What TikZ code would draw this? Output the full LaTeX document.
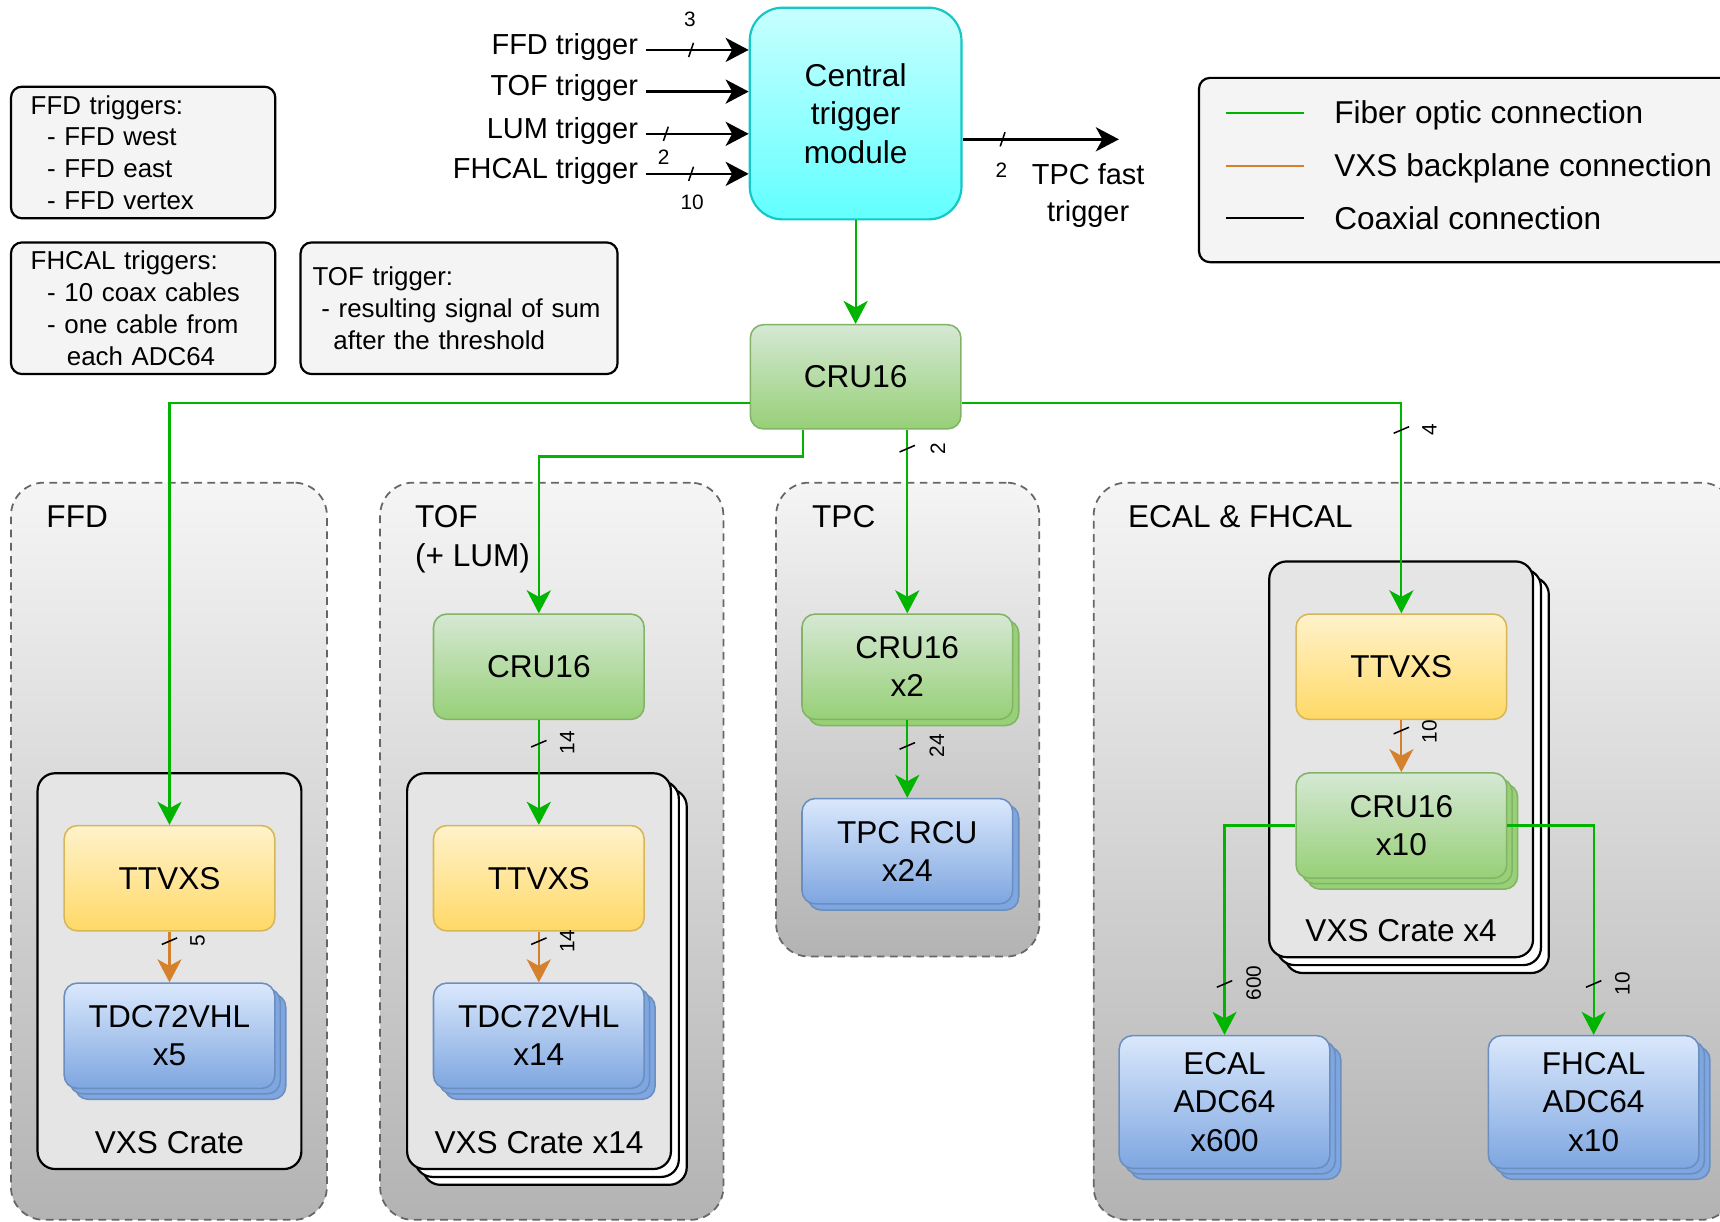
\documentclass[tikz,border=0pt]{standalone}
\usepackage{fontspec}
\setmainfont{Liberation Sans}
\usepackage{tikz}
\usetikzlibrary{arrows.meta,shadows,positioning}

\definecolor{fibre}{RGB}{0,180,0}
\definecolor{backplane}{RGB}{212,128,44}
\definecolor{crutop}{HTML}{D5E8D4}
\definecolor{crubot}{HTML}{97D077}
\definecolor{cruedge}{HTML}{82B366}
\definecolor{tttop}{HTML}{FFF2CC}
\definecolor{ttbot}{HTML}{FFD966}
\definecolor{ttedge}{HTML}{D6B656}
\definecolor{adctop}{HTML}{DAE8FC}
\definecolor{adcbot}{HTML}{7EA6E0}
\definecolor{adcedge}{HTML}{6C8EBF}
\definecolor{ctmtop}{HTML}{C8FFFF}
\definecolor{ctmbot}{HTML}{62FFFF}
\definecolor{ctmedge}{HTML}{14C8C8}
\definecolor{grptop}{HTML}{F5F5F5}
\definecolor{grpbot}{HTML}{B3B3B3}
\definecolor{grpedge}{HTML}{666666}
\definecolor{notefill}{HTML}{F4F4F4}

\begin{document}
\begin{tikzpicture}[x=0.5pt, y=-0.5pt,
  every node/.style={font=\fontsize{14.4}{17.5}\selectfont, align=center},
  >={Stealth[length=10.5pt, width=11pt, inset=3pt]},
  box/.style={draw, line width=0.7pt, rounded corners=6pt, minimum width=96pt, minimum height=48pt, inner sep=0pt},
  crubox/.style={box, draw=cruedge, top color=crutop, bottom color=crubot},
  ttbox/.style={box, draw=ttedge, top color=tttop, bottom color=ttbot},
  adcbox/.style={box, draw=adcedge, top color=adctop, bottom color=adcbot},
  stackone/.style={copy shadow={shadow xshift=2.8pt, shadow yshift=-2.8pt, fill=#1bot, draw=#1edge, line width=0.7pt}},
  stacktwo/.style={copy shadow={shadow xshift=5pt, shadow yshift=-5pt, fill=#1bot, draw=#1edge, line width=0.7pt},
                   copy shadow={shadow xshift=2.5pt, shadow yshift=-2.5pt, fill=#1bot, draw=#1edge, line width=0.7pt}},
  crate/.style={draw, line width=1pt, fill=gray!20, rounded corners=8pt, minimum width=120.25pt, minimum height=180.4pt, inner sep=0pt},
  cratecopies/.style={copy shadow={shadow xshift=7.2pt, shadow yshift=-7.2pt, fill=white, draw=black, line width=1pt},
                      copy shadow={shadow xshift=3.6pt, shadow yshift=-3.6pt, fill=white, draw=black, line width=1pt}},
  grp/.style={draw=grpedge, line width=0.8pt, dash pattern=on 3.5pt off 2.5pt, top color=grptop, bottom color=grpbot, rounded corners=15pt, inner sep=0pt},
  note/.style={draw, line width=1pt, fill=notefill, rounded corners=5pt, align=left, font=\fontsize{11.8}{14.5}\selectfont},
  trig/.style={font=\fontsize{13.2}{17}\selectfont},
  legtext/.style={anchor=west, text height=10.5pt, text depth=3pt},
  num/.style={font=\fontsize{9.5}{11}\selectfont, inner sep=1pt},
  fib/.style={draw=fibre, line width=1pt},
  vxs/.style={draw=backplane, line width=1pt},
  coax/.style={draw=black, line width=1.2pt},
  cut/.style={draw=black, line width=0.7pt}]
\useasboundingbox (0,0) rectangle (1568,1114);
\clip (0,0) rectangle (1568,1114);

\node[grp, minimum width=144pt, minimum height=336pt] (grpffd) at (154,776) {};
\node[grp, minimum width=156.5pt, minimum height=336pt] (grptof) at (503,776) {};
\node[grp, minimum width=120pt, minimum height=216pt] (grptpc) at (827.5,656) {};
\node[grp, minimum width=292pt, minimum height=336pt] (grpcal) at (1289,776) {};
\node[anchor=north west] (lblffd) at (35.3,454) {FFD};
\node[anchor=north west, align=left] (lbltof) at (371.3,454) {TOF\\(+ LUM)};
\node[anchor=north west] (lbltpc) at (733.3,454) {TPC};
\node[anchor=north west] (lblcal) at (1021.3,454) {ECAL \& FHCAL};

\node[crate] (crateffd) at (154.5,885.3) {};
\node[crate, cratecopies] (cratetof) at (491.4,885.3) {};
\node[crate, cratecopies] (cratecal) at (1277.3,692.2) {};
\node[anchor=south] (lblcrffd) at ([yshift=3.8pt]crateffd.south) {VXS Crate};
\node[anchor=south] (lblcrtof) at ([yshift=3.8pt]cratetof.south) {VXS Crate x14};
\node[anchor=south] (lblcrcal) at ([yshift=3.8pt]cratecal.south) {VXS Crate x4};

\node[box, draw=ctmedge, line width=1pt, top color=ctmtop, bottom color=ctmbot, rounded corners=15pt, minimum width=96.5pt, minimum height=96.5pt] (ctm) at (780,103.5) {Central\\trigger\\module};
\node[crubox, minimum height=47.5pt] (cru) at (780,343.5) {CRU16};

\node[ttbox] (ffdtt) at (154.5,800.6) {TTVXS};
\node[adcbox, stacktwo=adc] (ffdtdc) at (154.5,944.2) {TDC72VHL\\x5};

\node[crubox] (tofcru) at (491.2,607.8) {CRU16};
\node[ttbox] (toftt) at (491.2,800.6) {TTVXS};
\node[adcbox, stacktwo=adc] (toftdc) at (491.2,944.2) {TDC72VHL\\x14};

\node[crubox, stackone=cru] (tpccru) at (827.1,607.8) {CRU16\\x2};
\node[adcbox, stackone=adc] (tpcrcu) at (827.1,776) {TPC RCU\\x24};

\node[ttbox] (caltt) at (1277.5,607.8) {TTVXS};
\node[crubox, stacktwo=cru] (calcru) at (1277.5,752.6) {CRU16\\x10};
\node[adcbox, stacktwo=adc, minimum height=60.5pt] (ecaladc) at (1116.3,1004.6) {ECAL\\ADC64\\x600};
\node[adcbox, stacktwo=adc, minimum height=60.5pt] (fhcaladc) at (1452.8,1004.6) {FHCAL\\ADC64\\x10};

\node[note, text width=102.5pt, inner xsep=9pt, minimum height=60pt] (noteffd) at (130.5,139) {FFD triggers:\\\hspace*{7.5pt}- FFD west\\\hspace*{7.5pt}- FFD east\\\hspace*{7.5pt}- FFD vertex};
\node[note, text width=102.5pt, inner xsep=9pt, minimum height=60pt] (notefhcal) at (130.5,281) {FHCAL triggers:\\\hspace*{7.5pt}- 10 coax cables\\\hspace*{7.5pt}- one cable from\\\hspace*{16.5pt}each ADC64};
\node[note, text width=133.5pt, inner xsep=5.5pt, minimum height=60pt] (notetof) at (418.5,281) {TOF trigger:\\\hspace*{4pt}- resulting signal of sum\\\hspace*{9.5pt}after the threshold};

\node[note, anchor=north west, minimum width=244pt, minimum height=84pt] (legend) at (1092,70) {};
\node[legtext] (lgfib) at (1209.3,105.5) {Fiber optic connection};
\node[legtext] (lgvxs) at (1209.3,153.5) {VXS backplane connection};
\node[legtext] (lgcoax) at (1209.3,201.5) {Coaxial connection};
\draw[fib] ([xshift=-10.5pt,yshift=1.25pt]lgfib.west) -- ++(-71,0);
\draw[vxs] ([xshift=-10.5pt,yshift=1.25pt]lgvxs.west) -- ++(-71,0);
\draw[coax, line width=1pt] ([xshift=-10.5pt,yshift=1.25pt]lgcoax.west) -- ++(-71,0);

\node[trig, anchor=east] (inffd) at (588.7,42.5) {FFD trigger};
\node[trig, anchor=east] (intof) at (588.7,80.5) {TOF trigger};
\node[trig, anchor=east] (inlum) at (588.7,119) {LUM trigger};
\node[trig, anchor=east] (infhcal) at (588.7,155.5) {FHCAL trigger};
\draw[coax, ->] ([yshift=-1.5pt]inffd.east) -- ([yshift=-1.5pt]inffd.east -| ctm.west);
\draw[coax, ->] ([yshift=-1.5pt]intof.east) -- ([yshift=-1.5pt]intof.east -| ctm.west);
\draw[coax, ->] ([yshift=-1.5pt]inlum.east) -- ([yshift=-1.5pt]inlum.east -| ctm.west);
\draw[coax, ->] ([yshift=-1.5pt]infhcal.east) -- ([yshift=-1.5pt]infhcal.east -| ctm.west);
\coordinate (fastend) at (1020,127);
\node[trig] (tfast) at (992,178) {TPC fast\\trigger};
\draw[coax, ->] ([yshift=-11.75pt]ctm.east) -- (fastend);

\draw[cut] (627.8,52) -- (632.2,39);
\node[num] (nffd) at (629,18) {3};
\draw[cut] (604.8,128.5) -- (609.2,115.5);
\node[num] (nlum) at (605,143) {2};
\draw[cut] (627.8,165) -- (632.2,152);
\node[num] (nfhcal) at (631,184) {10};
\draw[cut] (911.8,133.5) -- (916.2,120.5);
\node[num] (nfast) at (913,155) {2};

\draw[fib, ->] (ctm) -- (cru);
\draw[fib, ->] ([yshift=-12pt]cru.west) -| (ffdtt.north);
\draw[fib, ->] ([xshift=-24pt]cru.south) -- ++(0,24.5) -| (tofcru.north);
\draw[fib, ->] (cru.south -| tpccru.north) -- (tpccru.north);
\draw[fib, ->] ([yshift=-12pt]cru.east) -| (caltt.north);
\draw[fib, ->] (tofcru) -- (toftt);
\draw[fib, ->] (tpccru) -- (tpcrcu);
\draw[fib, ->] (calcru.west) -| (ecaladc.north);
\draw[fib, ->] (calcru.east) -| (fhcaladc.north);
\draw[vxs, ->] (ffdtt) -- (ffdtdc);
\draw[vxs, ->] (toftt) -- (toftdc);
\draw[vxs, ->] (caltt) -- (calcru);

\draw[cut] (820.1,412) -- (834.1,406);
\node[num, rotate=90] (ntpc) at (855,409) {2};
\draw[cut] (1270.5,395) -- (1284.5,389);
\node[num, rotate=90] (ncal) at (1303,392) {4};
\draw[cut] (484.2,681) -- (498.2,675);
\node[num, rotate=90] (ntofcru) at (517,677) {14};
\draw[cut] (147.5,861) -- (161.5,855);
\node[num, rotate=90] (nffdtt) at (180,858) {5};
\draw[cut] (484.2,861) -- (498.2,855);
\node[num, rotate=90] (ntoftt) at (517,858) {14};
\draw[cut] (820.1,683) -- (834.1,677);
\node[num, rotate=90] (nrcu) at (854,680) {24};
\draw[cut] (1270.5,669) -- (1284.5,663);
\node[num, rotate=90] (ncaltt) at (1303,667) {10};
\draw[cut] (1109.3,900) -- (1123.3,894);
\node[num, rotate=90] (necal) at (1143,896) {600};
\draw[cut] (1445.8,900) -- (1459.8,894);
\node[num, rotate=90] (nfhc) at (1479,897) {10};
\end{tikzpicture}
\end{document}
